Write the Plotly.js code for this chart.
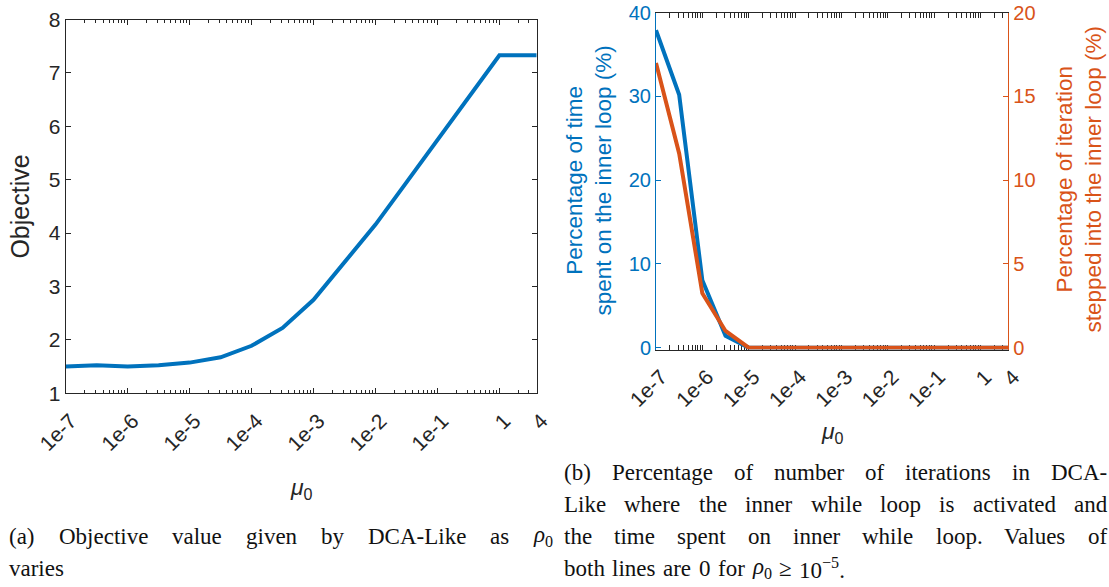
<!DOCTYPE html>
<html>
<head>
<meta charset="utf-8">
<script src="https://cdn.plot.ly/plotly-3.0.1.min.js"></script>
<style>
  html, body { margin: 0; padding: 0; background: #fff; }
  #chart { width: 1109px; height: 587px; }
</style>
</head>
<body>
<div id="chart"></div>
<script>
// ---------------- data ----------------
const muValues = [1e-7, 3.162e-7, 1e-6, 3.162e-6, 1e-5, 3.162e-5, 1e-4, 3.162e-4,
                  1e-3, 3.162e-3, 1e-2, 3.162e-2, 1e-1, 3.162e-1, 1, 4];
const objectiveValues = [1.50, 1.525, 1.50, 1.525, 1.575, 1.675, 1.89, 2.225,
                         2.75, 3.45, 4.16, 4.95, 5.745, 6.54, 7.33, 7.33];
const timeInnerPct = [37.9, 30.2, 8.06, 1.43, 0, 0, 0, 0, 0, 0, 0, 0, 0, 0, 0, 0];
const iterInnerPct = [17.0, 11.6, 3.25, 1.0, 0, 0, 0, 0, 0, 0, 0, 0, 0, 0, 0, 0];
const xTickVals = [1e-7, 1e-6, 1e-5, 1e-4, 1e-3, 1e-2, 1e-1, 1, 4];
const xTickText = ['1e-7', '1e-6', '1e-5', '1e-4', '1e-3', '1e-2', '1e-1', '1', '4'];
const captionA = [
  ['(a)', 'Objective', 'value', 'given', 'by', 'DCA-Like', 'as', '<i>ρ</i><sub>0</sub>'],
  ['varies']
];
const captionB = [
  ['(b)', 'Percentage', 'of', 'number', 'of', 'iterations', 'in', 'DCA-'],
  ['Like', 'where', 'the', 'inner', 'while', 'loop', 'is', 'activated', 'and'],
  ['the', 'time', 'spent', 'on', 'inner', 'while', 'loop.', 'Values', 'of'],
  ['both', 'lines', 'are', '0', 'for', '<i>ρ</i><sub>0</sub>', '≥', '10<sup>−5</sup>.']
];

// ---------------- layout helpers ----------------
const W = 1109, H = 587;
const px = v => v / W;
const py = v => 1 - v / H;
const BLUE = '#0072BD', ORANGE = '#D95319', DARK = '#262626';
const SANS = 'Liberation Sans, Arial, sans-serif';
const SERIF = 'Liberation Serif, Times New Roman, serif';
const xRange = [-7, Math.log10(4)];

const xCommon = {
  type: 'log', range: xRange, tickmode: 'array', tickvals: xTickVals, ticktext: xTickText,
  tickangle: -45, ticks: 'inside', ticklen: 5, tickwidth: 1, tickcolor: DARK,
  ticklabelshift: 5, ticklabelstandoff: 6,
  showline: true, linecolor: DARK, linewidth: 1, mirror: 'allticks',
  showgrid: false, zeroline: false,
  tickfont: { family: SANS, size: 21, color: DARK },
  minor: { tickmode: 'linear', dtick: 'D1', ticks: 'inside', ticklen: 3, tickwidth: 1,
           tickcolor: DARK, showgrid: false }
};

// ---------------- caption word layout (justified) ----------------
const cv = document.createElement('canvas').getContext('2d');
function measure(html, fs) {
  let w = 0;
  const re = /<(sub|sup)>(.*?)<\/\1>/g;
  let last = 0, m;
  const plain = s => s.replace(/<[^>]+>/g, '');
  while ((m = re.exec(html)) !== null) {
    cv.font = fs + 'px "Liberation Serif"';
    w += cv.measureText(plain(html.slice(last, m.index))).width;
    cv.font = (fs * 0.7) + 'px "Liberation Serif"';
    w += cv.measureText(plain(m[2])).width;
    last = re.lastIndex;
  }
  cv.font = fs + 'px "Liberation Serif"';
  w += cv.measureText(plain(html.slice(last))).width;
  return w;
}
const CAP_FS = 23;
function layoutCaption(lines, x0, x1, baselines) {
  const anns = [];
  cv.font = CAP_FS + 'px "Liberation Serif"';
  const space = cv.measureText(' ').width;
  lines.forEach((words, li) => {
    const widths = words.map(w => measure(w, CAP_FS));
    const total = widths.reduce((a, b) => a + b, 0);
    const isLast = li === lines.length - 1;
    const gap = (isLast || words.length < 2) ? space * 1.3 : (x1 - x0 - total) / (words.length - 1);
    let x = x0;
    words.forEach((w, wi) => {
      anns.push({
        xref: 'paper', yref: 'paper', x: px(x), y: py(baselines[li] - 7),
        xanchor: 'left', yanchor: 'middle', showarrow: false, borderpad: 0,
        text: w, font: { family: SERIF, size: CAP_FS, color: '#111' }
      });
      x += widths[wi] + gap;
    });
  });
  return anns;
}

// ---------------- traces ----------------
const traces = [
  { x: muValues, y: objectiveValues, xaxis: 'x', yaxis: 'y', type: 'scatter', mode: 'lines',
    line: { color: BLUE, width: 4 }, showlegend: false, hoverinfo: 'skip' },
  { x: muValues, y: timeInnerPct, xaxis: 'x2', yaxis: 'y2', type: 'scatter', mode: 'lines',
    line: { color: BLUE, width: 4 }, showlegend: false, hoverinfo: 'skip' },
  { x: muValues, y: iterInnerPct, xaxis: 'x2', yaxis: 'y3', type: 'scatter', mode: 'lines',
    line: { color: ORANGE, width: 4 }, showlegend: false, hoverinfo: 'skip' }
];

const annotations = [
  { xref: 'paper', yref: 'paper', x: px(19.6), y: py(207), textangle: -90, showarrow: false,
    xanchor: 'center', yanchor: 'middle', text: 'Objective',
    font: { family: SANS, size: 25, color: DARK } },
  { xref: 'paper', yref: 'paper', x: px(301), y: py(488), showarrow: false,
    xanchor: 'center', yanchor: 'middle', text: '<i>μ</i><sub>0</sub>',
    font: { family: SANS, size: 23, color: DARK } },
  { xref: 'paper', yref: 'paper', x: px(832), y: py(432), showarrow: false,
    xanchor: 'center', yanchor: 'middle', text: '<i>μ</i><sub>0</sub>',
    font: { family: SANS, size: 23, color: DARK } },
  { xref: 'paper', yref: 'paper', x: px(588.5), y: py(181), textangle: -90, showarrow: false,
    xanchor: 'center', yanchor: 'middle',
    text: 'Percentage of time<br>spent on the inner loop (%)',
    font: { family: SANS, size: 22.5, color: BLUE } },
  { xref: 'paper', yref: 'paper', x: px(1078.5), y: py(180), textangle: -90, showarrow: false,
    xanchor: 'center', yanchor: 'middle',
    text: 'Percentage of iteration<br>stepped into the inner loop (%)',
    font: { family: SANS, size: 22.5, color: ORANGE } }
].concat(layoutCaption(captionA, 8, 552, [543, 575]))
 .concat(layoutCaption(captionB, 563, 1106, [479, 511, 543, 575]));

// right panel: bottom edge sits 1.8px below the zero level so the zero-valued
// lines are not clipped in half (as in the reference)
const rTop = 12.7, rZero = 347.7, rBottom = 349.5;
const padFrac = (rBottom - rZero) / (rZero - rTop);

const layout = {
  width: W, height: H,
  margin: { l: 0, r: 0, t: 0, b: 0, pad: 0 },
  paper_bgcolor: '#fff', plot_bgcolor: '#fff',
  font: { family: SANS, color: DARK },
  showlegend: false,
  xaxis: Object.assign({}, xCommon, { domain: [px(65.7), px(536.7)], anchor: 'y' }),
  yaxis: {
    domain: [py(393.3), py(19.5)], anchor: 'x', range: [1, 8], tickmode: 'linear', tick0: 1, dtick: 1,
    ticks: 'inside', ticklen: 5, tickwidth: 1, tickcolor: DARK,
    showline: true, linecolor: DARK, linewidth: 1, mirror: 'ticks',
    showgrid: false, zeroline: false, tickfont: { family: SANS, size: 21, color: DARK }
  },
  xaxis2: Object.assign({}, xCommon, { domain: [px(656), px(1008.3)], anchor: 'y2', layer: 'below traces' }),
  yaxis2: {
    domain: [py(rBottom), py(rTop)], anchor: 'x2', range: [-40 * padFrac, 40], tickmode: 'linear', tick0: 0, dtick: 10,
    ticks: 'inside', ticklen: 5, tickwidth: 1, tickcolor: BLUE,
    showline: true, linecolor: BLUE, linewidth: 1, mirror: false,
    showgrid: false, zeroline: false, tickfont: { family: SANS, size: 20, color: BLUE }
  },
  yaxis3: {
    domain: [py(rBottom), py(rTop)], anchor: 'x2', overlaying: 'y2', side: 'right',
    range: [-20 * padFrac, 20], tickmode: 'linear', tick0: 0, dtick: 5,
    ticks: 'inside', ticklen: 5, tickwidth: 1, tickcolor: ORANGE,
    showline: true, linecolor: ORANGE, linewidth: 1,
    showgrid: false, zeroline: false, tickfont: { family: SANS, size: 20, color: ORANGE }
  },
  annotations: annotations
};

Plotly.newPlot('chart', traces, layout, { displayModeBar: false, staticPlot: true });
</script>
</body>
</html>
